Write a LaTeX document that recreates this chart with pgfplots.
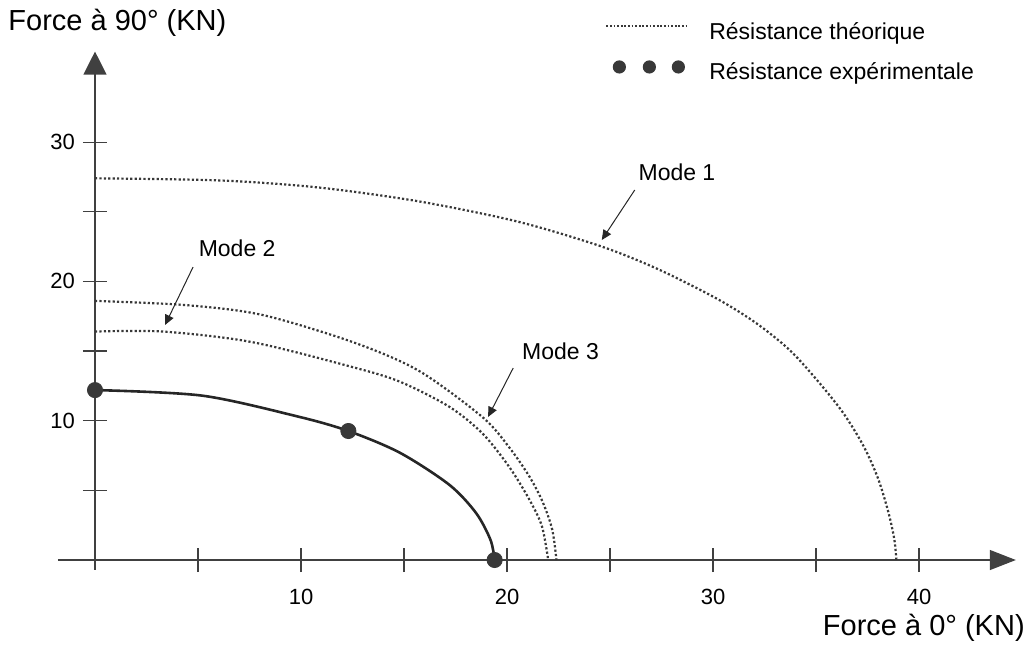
\documentclass[border=0pt]{standalone}
\usepackage{fontspec}
\setmainfont{Liberation Sans}
\usepackage{pgfplots}
\usepackage{pgfplotstable}
\pgfplotsset{compat=1.18}
\usetikzlibrary{arrows.meta}

\definecolor{ink}{gray}{0.22}

\pgfplotstableread{
x y
0 27.4
6.0 27.25
10.8 26.75
15.7 25.75
20.5 24.3
24.5 22.55
27.3 20.9
30.2 18.75
32.1 17.0
33.7 15.1
35.0 13.0
36.3 10.6
37.3 8.2
38.0 5.9
38.5 3.5
38.8 1.5
38.9 0
}\modeone

\pgfplotstableread{
x y
0 16.4
3.3 16.4
7.6 15.65
12.5 13.85
14.8 12.8
17.2 11.0
18.8 9.1
20.1 6.7
21.1 4.3
21.7 2.4
22.0 0
}\modetwo

\pgfplotstableread{
x y
0 18.6
4.4 18.3
8.1 17.6
12.5 15.65
15.7 13.6
18.8 10.27
20.1 8.1
21.1 5.96
21.75 4.1
22.2 2.15
22.4 0
}\modethree

\pgfplotstableread{
x y
0 12.2
5.2 11.8
9.85 10.3
12.3 9.26
14.8 7.7
17.2 5.4
18.5 3.37
19.2 1.44
19.4 0
}\expline

\pgfplotstableread{
x y
0 12.2
12.3 9.26
19.4 0
}\exppts

\begin{document}
\begin{tikzpicture}
\useasboundingbox (0pt,0pt) rectangle (515.5pt,322.5pt);
\begin{axis}[
  at={(47.5pt,42.5pt)}, anchor=origin,
  x=10.3pt, y=6.965pt,
  xmin=-1.8, xmax=44.7, ymin=-0.7, ymax=36.5,
  enlargelimits=false, clip=false,
  axis lines=middle,
  axis line style={draw=black!75, line width=0.6pt},
  x axis line style={-{Triangle[length=13pt,width=10pt]}},
  y axis line style={-{Triangle[length=11.5pt,width=11.5pt]}},
  xtick={5,10,...,40}, xticklabels={,10,,20,,30,,40},
  ytick={5,10,...,30}, yticklabels={,10,,20,,30},
  tick align=center, major tick length=12pt,
  tick style={draw=black!75, line width=0.6pt},
  ticklabel style={font=\fontsize{11}{13}\selectfont},
  xticklabel style={yshift=-5pt},
  yticklabel style={xshift=-0.5pt},
  legend style={at={(axis cs:24.76,38.62)}, anchor=north west,
    draw=none, fill=none, inner sep=0pt, column sep=10pt, row sep=9pt,
    font=\fontsize{11.5}{13}\selectfont, nodes={inner sep=0pt}},
  legend cell align=left,
  theo/.style={ink, line width=1.1pt, dash pattern=on 1.1pt off 1.1pt, smooth},
]
\addplot[theo, forget plot] table {\modeone};
\addplot[theo, forget plot] table {\modetwo};
\addplot[theo, forget plot] table {\modethree};
\addplot[black!85, line width=1.3pt, smooth, forget plot] table {\expline};
\addplot[only marks, mark=*, mark size=3.8pt, mark options={fill=ink, draw=ink}, forget plot] table {\exppts};

\addlegendimage{legend image code/.code={
  \draw[ink, line width=0.9pt, dash pattern=on 0.9pt off 0.9pt] (0pt,3pt) -- (41pt,3pt);}}
\addlegendentry{Résistance théorique}
\addlegendimage{legend image code/.code={
  \path[draw=none] (0pt,3pt) -- (41pt,3pt);
  \path[draw=none, fill=ink] (6.5pt,3pt) circle (3.3pt) (21.5pt,3pt) circle (3.3pt) (36pt,3pt) circle (3.3pt);}}
\addlegendentry{Résistance expérimentale}

\draw[-{Triangle[length=5pt,width=4.5pt]}, line width=0.5pt, black!85] (axis cs:26.2,26.56) -- (axis cs:24.6,22.97);
\draw[-{Triangle[length=5pt,width=4.5pt]}, line width=0.5pt, black!85] (axis cs:4.76,21.03) -- (axis cs:3.4,16.87);
\draw[-{Triangle[length=5pt,width=4.5pt]}, line width=0.5pt, black!85] (axis cs:20.3,13.78) -- (axis cs:19.08,10.27);
\node[font=\fontsize{11.5}{13}\selectfont] at (axis cs:28.25,27.85) {Mode 1};
\node[font=\fontsize{11.5}{13}\selectfont] at (axis cs:6.9,22.4) {Mode 2};
\node[font=\fontsize{11.5}{13}\selectfont] at (axis cs:22.6,15.0) {Mode 3};
\node[anchor=west, inner sep=0pt, font=\fontsize{14.5}{17}\selectfont] at (axis cs:-4.22,38.55) {Force à 90° (KN)};
\node[anchor=east, inner sep=0pt, font=\fontsize{14.5}{17}\selectfont] at (axis cs:45.15,-4.85) {Force à 0° (KN)};
\end{axis}
\end{tikzpicture}
\end{document}
